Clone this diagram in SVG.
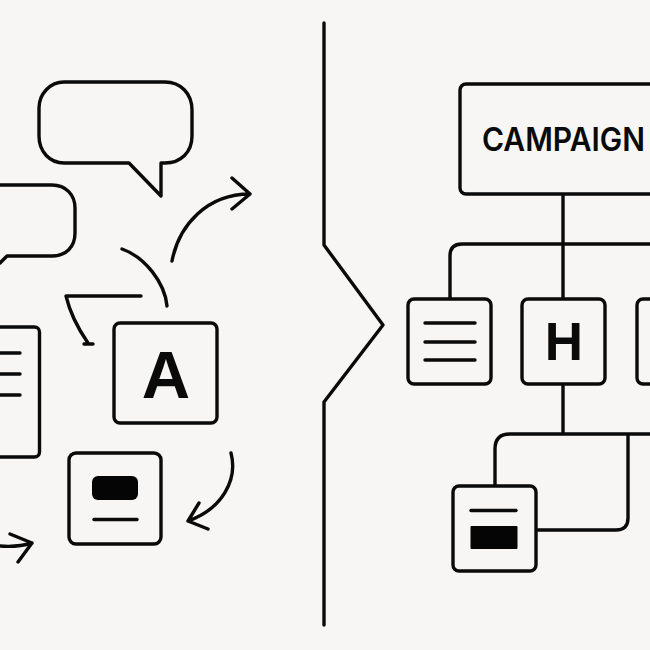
<svg xmlns="http://www.w3.org/2000/svg" width="650" height="650" viewBox="0 0 650 650">
<style>
.s{fill:none;stroke:#0a0a0a;stroke-width:3.400;stroke-linecap:round;stroke-linejoin:round}
.b{fill:#f7f6f4;stroke:#0a0a0a;stroke-width:3.400}
.f{fill:#050505}
.t{font-family:"Liberation Sans",Arial,sans-serif;font-weight:700;fill:#0a0a0a;text-anchor:middle}
</style>
<rect width="650" height="650" fill="#f7f6f4"/>
<path id="divider" class="s" d="M324 23V245L383 325L324 402V625"/>
<g id="connectors">
<path class="s" d="M172 261C179 225 207 194 250 194M232 178L250 194L232 209"/>
<path class="s" d="M122 249C145 257 165 283 167 306"/>
<path class="s" d="M141 296H66C70 313 79 330 88 343M84 344H93M66 296H78"/>
<path class="s" d="M231 453C238 480 222 509 188 521M199 503L188 521L208 529"/>
<path class="s" d="M0 546C12 547 22 546 32 543M10 534L32 543L18 562"/>
<path class="s" d="M563 194V299M650 244H462Q450 244 450 256V299"/>
<path class="s" d="M563 384V434M650 434H510Q495 434 495 449V486M628 434V518Q628 530 616 530H536"/>
</g>
<g id="bubble-top"><path class="s" d="M64 82H165C181 82 192 94 192 110V136C192 152 181 163 165 163H161V196L129 163H64C50 163 39 152 39 136V108C39 94 50 82 64 82Z"/></g>
<g id="bubble-left"><path class="s" d="M-5 185H52C66 185 75 195 75 208V233C75 247 66 256 52 256H7L0 263"/></g>
<g id="doc-left"><rect class="b" x="-20" y="327" width="59.500" height="130" rx="5"/><path class="s" d="M0 353H20M0 374H20M0 395H20"/></g>
<g id="node-a"><rect class="b" x="114" y="323" width="103" height="100" rx="6"/><text class="t" x="166" y="397.500" font-size="67">A</text></g>
<g id="node-banner"><rect class="b" x="69" y="453" width="92" height="91" rx="7"/><rect class="f" x="92" y="476" width="46" height="24" rx="6"/><path class="s" d="M94 519.500H137"/></g>
<g id="campaign"><rect class="b" x="460" y="84" width="220" height="110" rx="6"/><text transform="translate(482 151) scale(1 1.07)" font-family="Inter,'Liberation Sans',sans-serif" font-weight="600" font-size="30" textLength="163" lengthAdjust="spacingAndGlyphs" fill="#0a0a0a">CAMPAIGN</text></g>
<g id="node-doc"><rect class="b" x="408" y="299" width="83" height="85" rx="6"/><path class="s" d="M425 323H475M425 342H475M425 360H475"/></g>
<g id="node-h"><rect class="b" x="522" y="299" width="83" height="85" rx="6"/><text class="t" x="564" y="360" font-size="53">H</text></g>
<g id="node-third"><rect class="b" x="637" y="299" width="40" height="85" rx="6"/></g>
<g id="node-bottom"><rect class="b" x="453" y="486" width="83" height="85" rx="6"/><path class="s" d="M471 510.500H516"/><rect class="f" x="470.500" y="526" width="47" height="23" rx="1"/></g>
</svg>
